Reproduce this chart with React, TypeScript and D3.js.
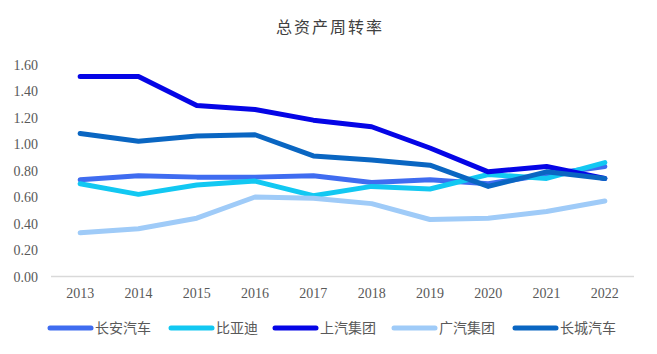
import React from 'react';
import * as d3 from 'd3';

const years = ['2013', '2014', '2015', '2016', '2017', '2018', '2019', '2020', '2021', '2022'];
const changan = [0.73, 0.76, 0.75, 0.75, 0.76, 0.71, 0.73, 0.70, 0.77, 0.83];
const byd = [0.70, 0.62, 0.69, 0.72, 0.61, 0.68, 0.66, 0.77, 0.74, 0.86];
const saic = [1.51, 1.51, 1.29, 1.26, 1.18, 1.13, 0.97, 0.79, 0.83, 0.74];
const gac = [0.33, 0.36, 0.44, 0.60, 0.59, 0.55, 0.43, 0.44, 0.49, 0.57];
const gwm = [1.08, 1.02, 1.06, 1.07, 0.91, 0.88, 0.84, 0.68, 0.79, 0.74];
const yTicks = [0, 0.2, 0.4, 0.6, 0.8, 1.0, 1.2, 1.4, 1.6];

const series = [
  { name: '长安汽车', values: changan, color: '#3f6cf0' },
  { name: '比亚迪', values: byd, color: '#12c8f2' },
  { name: '上汽集团', values: saic, color: '#0505e6' },
  { name: '广汽集团', values: gac, color: '#9fcbf8' },
  { name: '长城汽车', values: gwm, color: '#0a66c2' },
];

const W = 657;
const H = 354;
const serif = '"Liberation Serif", "Times New Roman", serif';
const cjk = '"Noto Sans CJK SC", sans-serif';

export default function App() {
  const x = d3.scaleBand<string>().domain(years).range([51, 634]);
  const y = d3.scaleLinear().domain([0, 1.6]).range([276.5, 64.5]);
  const line = d3.line<number>()
    .x((_, i) => (x(years[i]) as number) + x.bandwidth() / 2)
    .y(d => y(d));
  const fmt = d3.format('.2f');
  const legendX = [48, 169, 273, 392, 513];

  return (
    <svg width={W} height={H} style={{ position: 'absolute', left: 0, top: 0 }}>
      <rect width={W} height={H} fill="#fff" />
      <text x={330} y={33} textAnchor="middle" fontFamily={cjk} fontSize={16} letterSpacing={2} fill="#404040">总资产周转率</text>

      {yTicks.map(t => (
        <text key={t} x={38} y={y(t) + 5} textAnchor="end" fontFamily={serif} fontSize={14} fill="#595959">{fmt(t)}</text>
      ))}
      <line x1={51} x2={634} y1={y(0)} y2={y(0)} stroke="#d9d9d9" strokeWidth={1.5} />
      {years.map(yr => (
        <text key={yr} x={(x(yr) as number) + x.bandwidth() / 2} y={298} textAnchor="middle" fontFamily={serif} fontSize={14} fill="#595959">{yr}</text>
      ))}

      {series.map(s => (
        <path key={s.name} d={line(s.values) ?? ''} fill="none" stroke={s.color} strokeWidth={5} strokeLinejoin="round" strokeLinecap="round" />
      ))}

      {series.map((s, i) => (
        <g key={s.name} transform={`translate(${legendX[i]},328)`}>
          <line x1={2} x2={43} y1={0} y2={0} stroke={s.color} strokeWidth={5} strokeLinecap="round" />
          <text x={47} y={5} fontFamily={cjk} fontSize={14} fill="#595959">{s.name}</text>
        </g>
      ))}
    </svg>
  );
}
